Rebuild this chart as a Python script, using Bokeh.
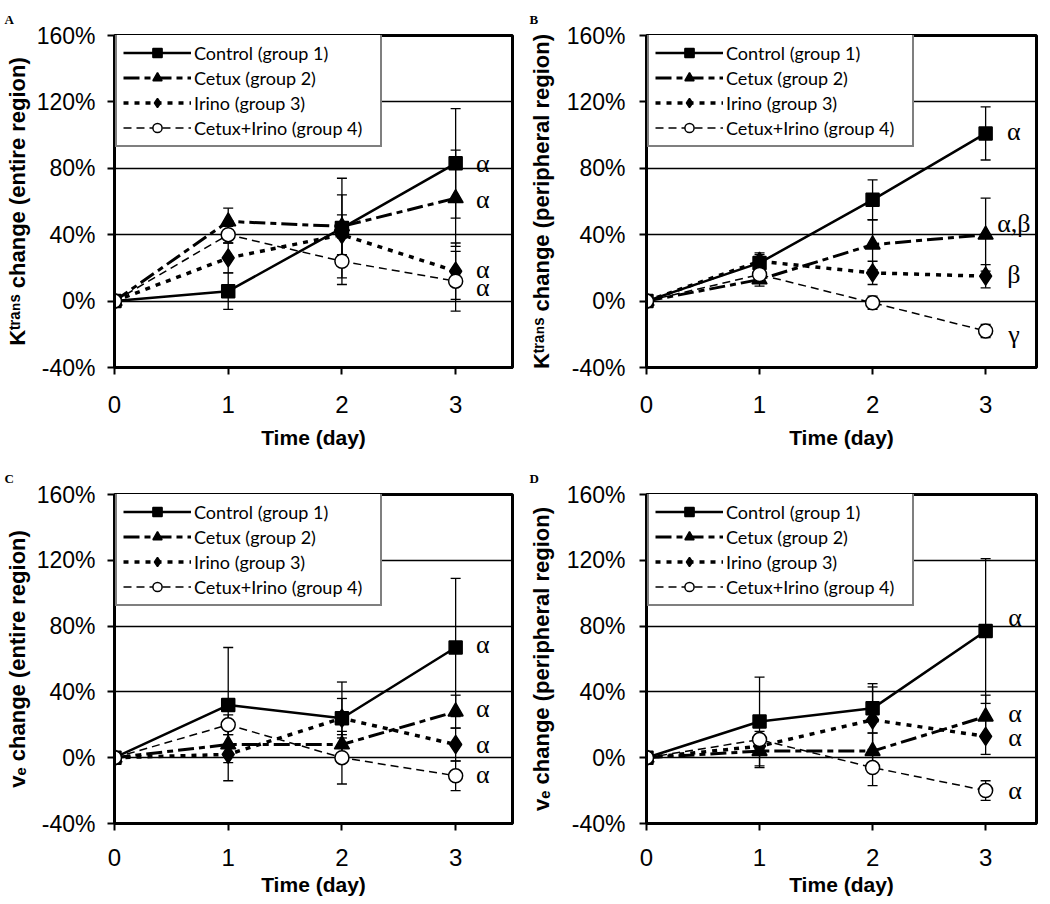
from bokeh.plotting import figure
from bokeh.models import (ColumnDataSource, Whisker, TeeHead, Legend, LegendItem, Title,
                          FixedTicker, PrintfTickFormatter, Range1d)
from bokeh.layouts import column, row
from bokeh.core.properties import value
from bokeh.embed import file_html
from bokeh.resources import INLINE

# ---------------- data ----------------
days = [0, 1, 2, 3]
group_labels = ["Control (group 1)", "Cetux (group 2)", "Irino (group 3)", "Cetux+Irino (group 4)"]
x_ticks = [0, 1, 2, 3]
y_ticks = [-40, 0, 40, 80, 120, 160]

# Panel A: Ktrans change (entire region), %
a_control = [0, 6, 44, 83]
a_control_err = [0, 11, 30, 33]
a_cetux = [0, 48, 45, 62]
a_cetux_err = [0, 8, 19, 29]
a_irino = [0, 26, 40, 18]
a_irino_err = [0, 9, 12, 17]
a_combo = [0, 40, 24, 12]
a_combo_err = [0, 5, 14, 18]
a_sig = ["α", "α", "α", "α"]
a_sig_y = [83, 61, 19, 8]

# Panel B: Ktrans change (peripheral region), %
b_control = [0, 23, 61, 101]
b_control_err = [0, 5, 12, 16]
b_cetux = [0, 13, 34, 40]
b_cetux_err = [0, 4, 15, 22]
b_irino = [0, 24, 17, 15]
b_irino_err = [0, 5, 7, 7]
b_combo = [0, 16, -1, -18]
b_combo_err = [0, 4, 4, 4]
b_sig = ["α", "α,β", "β", "γ"]
b_sig_y = [102, 47, 16, -20]

# Panel C: ve change (entire region), %
c_control = [0, 32, 24, 67]
c_control_err = [0, 35, 22, 42]
c_cetux = [0, 8, 8, 28]
c_cetux_err = [0, 6, 6, 10]
c_irino = [0, 2, 24, 8]
c_irino_err = [0, 16, 12, 10]
c_combo = [0, 20, 0, -11]
c_combo_err = [0, 6, 16, 9]
c_sig = ["α", "α", "α", "α"]
c_sig_y = [69, 30, 8, -10]

# Panel D: ve change (peripheral region), %
d_control = [0, 22, 30, 77]
d_control_err = [0, 27, 15, 44]
d_cetux = [0, 4, 4, 25]
d_cetux_err = [0, 10, 11, 13]
d_irino = [0, 7, 23, 13]
d_irino_err = [0, 5, 20, 11]
d_combo = [0, 11, -6, -20]
d_combo_err = [0, 5, 11, 6]
d_sig = ["α", "α", "α", "α"]
d_sig_y = [85, 27, 12, -20]

ylabel_A = "Kᵗʳᵃⁿˢ change (entire region)"
ylabel_B = "Kᵗʳᵃⁿˢ change (peripheral region)"
ylabel_C = "vₑ change (entire region)"
ylabel_D = "vₑ change (peripheral region)"

# ---------------- styling ----------------
STYLES = [
    dict(marker="square", size=13, fill="black", dash="solid", lw=2.5),
    dict(marker="triangle", size=15, fill="black", dash="16 5 6 5", lw=3),
    dict(marker="diamond", size=18, fill="black", dash="5 6", lw=3.5),
    dict(marker="circle", size=14, fill="white", dash="8 5", lw=1.5),
]
SANS = "Liberation Sans"
SERIF = "Liberation Serif"


def make_panel(letter, series, errors, sig, sig_y, sig_x, ylab, W, H, bl, bt, fw, fh, x_end,
               tick_standoff, label_standoff, ytick_standoff, ylabel_standoff):
    p = figure(width=W, height=H, x_range=Range1d(0, x_end), y_range=Range1d(-40, 160),
               output_backend="svg", toolbar_location=None,
               min_border_left=bl, min_border_top=bt,
               min_border_right=W - bl - fw, min_border_bottom=H - bt - fh)

    p.background_fill_color = "white"
    p.border_fill_color = "white"
    p.outline_line_color = "black"
    p.outline_line_width = 3
    p.outline_line_alpha = 1

    p.xgrid.grid_line_color = None
    p.ygrid.ticker = FixedTicker(ticks=y_ticks)
    p.ygrid.grid_line_color = "black"
    p.ygrid.grid_line_width = 1.3

    p.xaxis.ticker = FixedTicker(ticks=x_ticks)
    p.yaxis.ticker = FixedTicker(ticks=y_ticks)
    p.yaxis.formatter = PrintfTickFormatter(format="%d%%")
    for ax in (p.xaxis, p.yaxis):
        ax.axis_line_width = 3
        ax.axis_line_color = "black"
        ax.major_tick_in = 0
        ax.major_tick_out = 7
        ax.major_tick_line_width = 2
        ax.minor_tick_line_color = None
        ax.major_label_text_font = SANS
        ax.major_label_text_color = "black"
        ax.axis_label_text_font = SANS
        ax.axis_label_text_font_style = "bold"
        ax.axis_label_text_color = "black"
    p.yaxis.major_label_text_font_size = "23px"
    p.yaxis.major_label_standoff = ytick_standoff
    p.yaxis.axis_label = ylab
    p.yaxis.axis_label_text_font_size = "22px"
    p.yaxis.axis_label_standoff = ylabel_standoff
    p.xaxis.major_label_text_font_size = "24px"
    p.xaxis.major_label_standoff = tick_standoff
    p.xaxis.axis_label = "Time (day)"
    p.xaxis.axis_label_text_font_size = "21px"
    p.xaxis.axis_label_standoff = label_standoff

    # error bars (underneath the series)
    for vals, errs in zip(series, errors):
        xs = [d for d, e in zip(days, errs) if e > 0]
        up = [v + e for v, e in zip(vals, errs) if e > 0]
        lo = [v - e for v, e in zip(vals, errs) if e > 0]
        src = ColumnDataSource(dict(x=xs, upper=up, lower=lo))
        w = Whisker(source=src, base="x", upper="upper", lower="lower",
                    line_width=1.3, line_color="black", level="underlay",
                    upper_head=TeeHead(size=10, line_width=1.3, line_color="black"),
                    lower_head=TeeHead(size=10, line_width=1.3, line_color="black"))
        p.add_layout(w)

    line_rs = []
    for vals, st in zip(series, STYLES):
        line_rs.append(p.line(days, vals, line_color="black", line_width=st["lw"],
                              line_dash=st["dash"]))
    mark_rs = []
    for vals, st in zip(series, STYLES):
        mark_rs.append(p.scatter(days, vals, marker=st["marker"], size=st["size"],
                                 fill_color=st["fill"], line_color="black", line_width=1.5))

    items = [LegendItem(label=lab, renderers=[lr, mr])
             for lab, lr, mr in zip(group_labels, line_rs, mark_rs)]
    pad, ih, sp = 6, 23, 2
    lh = 2 * pad + 4 * ih + 3 * sp
    legend = Legend(items=items, location=(1, fh - 4 - lh),
                    border_line_color="black", border_line_width=2.5,
                    background_fill_color="white", background_fill_alpha=1.0,
                    label_text_font="Lato", label_text_font_size="18px",
                    label_text_color="black",
                    glyph_width=68, glyph_height=ih, label_height=ih,
                    spacing=sp, padding=pad, margin=0, label_standoff=3,
                    label_width=180)
    p.add_layout(legend)

    # significance letters
    p.text(x=[sig_x] * len(sig), y=sig_y, text=sig, text_font=value(SERIF),
           text_font_size="26px", text_baseline="middle", text_align="center",
           text_color="black")

    # panel letter
    t = Title(text=letter, align="left", offset=-(bl - 4), text_font=SERIF,
              text_font_style="bold", text_font_size="13px", text_color="black",
              standoff=18)
    p.add_layout(t, "above")
    return p


pA = make_panel("A", [a_control, a_cetux, a_irino, a_combo],
                [a_control_err, a_cetux_err, a_irino_err, a_combo_err], a_sig, a_sig_y, 3.24,
                ylabel_A, W=525, H=459, bl=114, bt=33, fw=398, fh=334, x_end=3.5,
                tick_standoff=21, label_standoff=10, ytick_standoff=12, ylabel_standoff=4)
pB = make_panel("B", [b_control, b_cetux, b_irino, b_combo],
                [b_control_err, b_cetux_err, b_irino_err, b_combo_err], b_sig, b_sig_y, 3.25,
                ylabel_B, W=522, H=459, bl=121, bt=33, fw=390, fh=334, x_end=3.45,
                tick_standoff=21, label_standoff=10, ytick_standoff=14, ylabel_standoff=10)
pC = make_panel("C", [c_control, c_cetux, c_irino, c_combo],
                [c_control_err, c_cetux_err, c_irino_err, c_combo_err], c_sig, c_sig_y, 3.24,
                ylabel_C, W=525, H=444, bl=114, bt=33, fw=398, fh=331, x_end=3.5,
                tick_standoff=18, label_standoff=4, ytick_standoff=12, ylabel_standoff=4)
pD = make_panel("D", [d_control, d_cetux, d_irino, d_combo],
                [d_control_err, d_cetux_err, d_irino_err, d_combo_err], d_sig, d_sig_y, 3.26,
                ylabel_D, W=522, H=444, bl=121, bt=33, fw=390, fh=331, x_end=3.45,
                tick_standoff=18, label_standoff=4, ytick_standoff=14, ylabel_standoff=10)

layout = column(row(pA, pB), row(pC, pD))
open("out.html", "w").write(file_html(layout, INLINE))
